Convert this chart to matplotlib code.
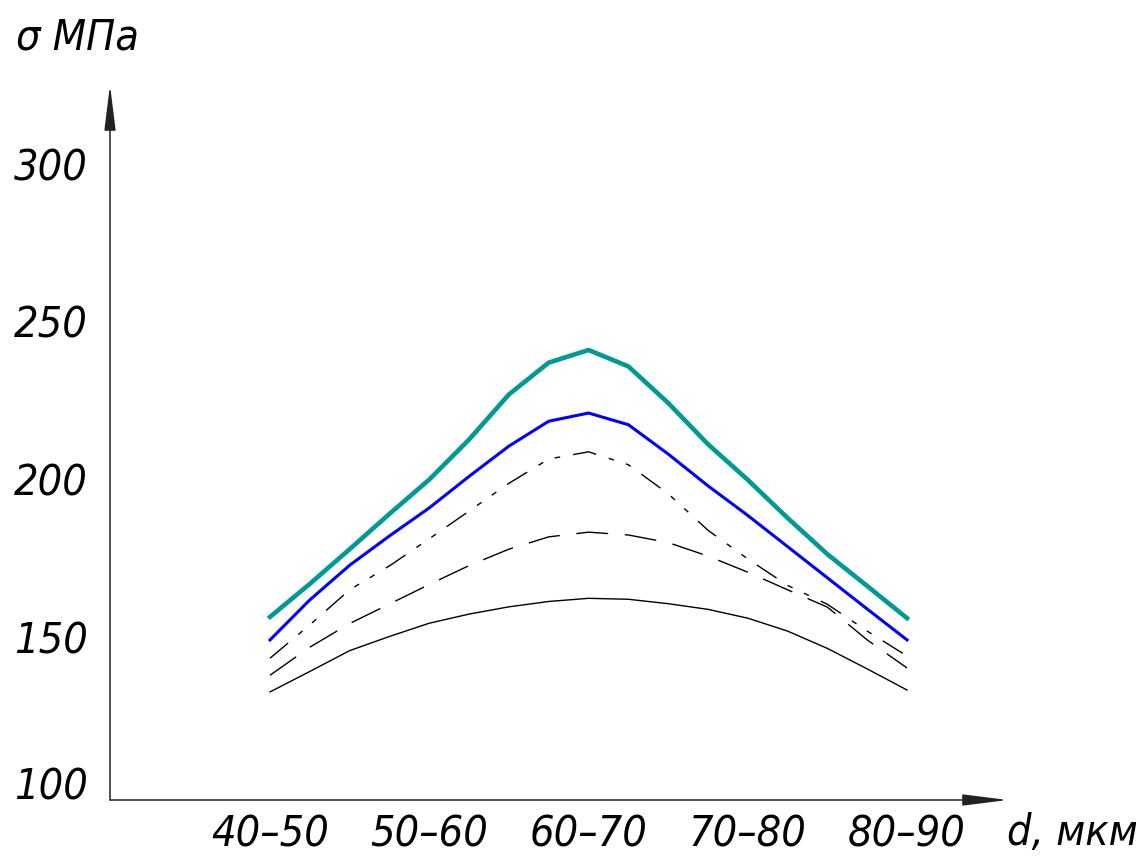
import numpy as np
import matplotlib
matplotlib.use('Agg')
import matplotlib.pyplot as plt
import matplotlib.transforms as mtransforms

# grain size groups (category positions), values read at quarter steps
groups = ['40–50', '50–60', '60–70', '70–80', '80–90']
pos = [0, 0.25, 0.5, 0.75, 1, 1.25, 1.5, 1.75, 2, 2.25, 2.5, 2.75, 3, 3.25, 3.5, 3.75, 4]

teal = [157.5, 168.0, 179.0, 190.2, 201.1, 213.8, 228.1, 238.2, 242.2,
        237.0, 225.4, 212.3, 201.0, 188.9, 177.4, 167.3, 157.1]
blue = [150.2, 162.9, 173.9, 183.2, 192.1, 202.1, 211.7, 219.6, 222.2,
        218.5, 209.2, 199.1, 189.7, 179.8, 169.9, 160.0, 150.2]
dashdot = [144.4, 155.0, 166.1, 173.7, 182.3, 191.1, 199.9, 207.6, 209.9,
           205.8, 196.6, 185.0, 175.9, 167.5, 161.5, 153.0, 145.1]
dashed = [139.0, 147.9, 155.4, 161.6, 167.8, 173.8, 179.0, 182.9, 184.4,
          183.5, 181.1, 176.8, 171.7, 166.1, 160.6, 150.2, 141.3]
solid = [133.7, 140.2, 146.8, 151.3, 155.5, 158.4, 160.7, 162.4, 163.4,
         163.1, 161.7, 159.9, 157.1, 153.0, 147.5, 141.0, 134.3]

yticks = [100, 150, 200, 250, 300]

plt.rcParams['lines.scale_dashes'] = False
font = dict(family='DejaVu Sans', style='italic', stretch='condensed')

fig = plt.figure(figsize=(11.36, 8.56), dpi=100)
ax = fig.add_axes([110/1136, 56/856, 898/1136, 715/856])
ax.set_xlim(-1.005, 4.634)
ax.set_ylim(99.4, 326.3)

ax.plot(pos, teal, color='#009a96', lw=3.3, solid_joinstyle='round')
ax.plot(pos, blue, color='#0000ff', lw=2.2, solid_joinstyle='round')
ax.plot(pos, dashdot, color='black', lw=1.0, dashes=(17, 9.5, 4, 9, 4, 9.5))
ax.plot(pos, dashed, color='black', lw=1.0, dashes=(23, 12))
ax.plot(pos, solid, color='black', lw=1.0)

for s in ax.spines.values():
    s.set_visible(False)

# axes with arrows
for tip in [(0, 1), (1, 0)]:
    ax.annotate('', xy=tip, xytext=(0, 0), xycoords='axes fraction',
                arrowprops=dict(arrowstyle='-|>,head_length=2.0,head_width=0.25',
                                mutation_scale=14, lw=1.1, color='#222222',
                                shrinkA=0, shrinkB=0))

ax.set_yticks(yticks)
ax.set_yticklabels([str(v) for v in yticks], fontsize=31, **font)
ax.set_xticks(range(len(groups)))
ax.set_xticklabels(groups, fontsize=31, **font)
ax.tick_params(axis='y', length=0, pad=16)
ax.tick_params(axis='x', length=0, pad=10)

# labels sit a little above their values; "100" more so
for lab, v in zip(ax.get_yticklabels(), yticks):
    dy = 15 if v == 100 else 4
    lab.set_transform(lab.get_transform() + mtransforms.Affine2D().translate(0, dy))

fig.text(1072/1136, 1 - 833/856, 'd, мкм', fontsize=31, ha='center', va='center', **font)
fig.text(78/1136, 1 - 38/856, 'σ МПа', fontsize=31, ha='center', va='center', **font)

fig.savefig('out.png', dpi=100, facecolor='white')
